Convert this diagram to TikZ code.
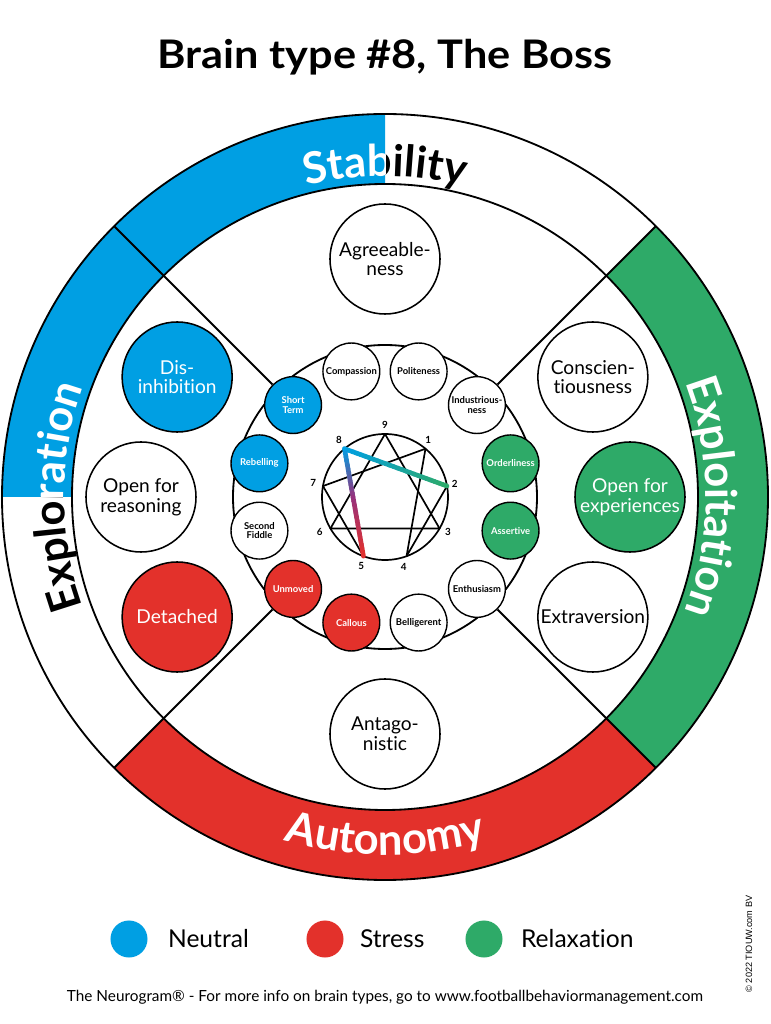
\documentclass[tikz,border=0pt]{standalone}
\usepackage{fontspec}
\setmainfont{Lato}[Ligatures=NoCommon]
\newfontfamily\copyfont{Liberation Sans}
\usetikzlibrary{positioning, calc, backgrounds, decorations.text}
\definecolor{tblue}{RGB}{0,159,227}
\definecolor{tred}{RGB}{227,49,43}
\definecolor{tgreen}{RGB}{46,170,104}
\definecolor{tpurp}{RGB}{150,50,125}
\newcommand{\bandfont}{\bfseries\fontsize{31}{31}\selectfont}

\begin{document}
\begin{tikzpicture}[
    x=0.025cm, y=0.025cm,
    ring/.style={line width=1.3pt},
    divline/.style={line width=1.3pt},
    bigc/.style={circle, draw, line width=1.1pt, fill=white, minimum size=2.75cm, inner sep=0pt, align=center, font=\fontsize{13.6}{14}\selectfont},
    smallc/.style={circle, draw, line width=1pt, fill=white, minimum size=1.42cm, inner sep=0pt, align=center, font=\bfseries\fontsize{6.7}{6.8}\selectfont},
    neutral/.style={fill=tblue, text=white},
    stress/.style={fill=tred, text=white},
    relax/.style={fill=tgreen, text=white},
    enn/.style={line width=1.2pt, line join=round},
    hiline/.style={line width=3.3pt, line cap=round},
    numlbl/.style={font=\bfseries\fontsize{7}{7}\selectfont, inner sep=0pt},
    legc/.style={circle, minimum size=0.925cm, inner sep=0pt},
    legtxt/.style={font=\fontsize{17.5}{17.5}\selectfont, inner sep=0pt},
]
\useasboundingbox (-385,-527) rectangle (385,497);
% === Title ===
\node[font=\bfseries\fontsize{28}{28}\selectfont, anchor=base] (title) at (0,428) {\scalebox{1.1}[1]{Brain type \#8, The Boss}};
% === Outer traits ===
\node[bigc] (agree) at (90:238) {Agreeable-\\ness};
\node[bigc] (consc) at (30:240) {Conscien-\\tiousness};
\node[bigc, relax] (openexp) at (0:245) {Open for\\experiences};
\node[bigc] (extra) at (-30:240) {Extraversion};
\node[bigc] (antag) at (-90:237) {Antago-\\nistic};
\node[bigc, stress] (detach) at (210:240) {Detached};
\node[bigc] (openrsn) at (180:244) {Open for\\reasoning};
\node[bigc, neutral] (disinh) at (150:240) {Dis-\\inhibition};
% === Inner traits ===
\node[smallc] (compas) at (105:130) {Compassion};
\node[smallc] (polite) at (75:130) {Politeness};
\node[smallc] (indus) at (45:130) {Industrious-\\ness};
\node[smallc, relax] (order) at (15:130) {Orderliness};
\node[smallc, relax] (assert) at (-15:130) {Assertive};
\node[smallc] (enthu) at (-45:130) {Enthusiasm};
\node[smallc] (bellig) at (-75:130) {Belligerent};
\node[smallc, stress] (callous) at (-105:130) {Callous};
\node[smallc, stress] (unmoved) at (-135:130) {Unmoved};
\node[smallc] (second) at (195:130) {Second\\Fiddle};
\node[smallc, neutral] (rebel) at (165:130) {Rebelling};
\node[smallc, neutral] (short) at (135:130) {Short\\Term};
% === Bands, rings and dividers ===
\begin{scope}[on background layer]
\fill[white] (-385,-527) rectangle (385,497);
\fill[tblue] (90:313) -- (90:383) arc[start angle=90, end angle=180, radius=383] -- (180:313) arc[start angle=180, end angle=90, radius=313] -- cycle;
\fill[tgreen] (45:313) -- (45:383) arc[start angle=45, end angle=-45, radius=383] -- (-45:313) arc[start angle=-45, end angle=45, radius=313] -- cycle;
\fill[tred] (-45:313) -- (-45:383) arc[start angle=-45, end angle=-135, radius=383] -- (-135:313) arc[start angle=-135, end angle=-45, radius=313] -- cycle;
\draw[ring] (0,0) circle[radius=383];
\draw[ring] (0,0) circle[radius=313];
\draw[ring] (0,0) circle[radius=152];
\coordinate (o45) at (45:383);
\coordinate (o135) at (135:383);
\coordinate (o225) at (225:383);
\coordinate (o315) at (315:383);
\draw[divline] (o45) -- (indus);
\draw[divline] (o135) -- (short);
\draw[divline] (o225) -- (unmoved);
\draw[divline] (o315) -- (enthu);
% band labels
\begin{scope}
\clip (0,0) rectangle (400,400);
\path[decorate, decoration={text along path, text align=center, text={|\bandfont|Stability}}] (135:321) arc[start angle=135, end angle=45, radius=321];
\end{scope}
\begin{scope}
\clip (-400,0) rectangle (0,400);
\path[decorate, decoration={text along path, text align=center, text={|\bandfont\color{white}|Stability}}] (135:321) arc[start angle=135, end angle=45, radius=321];
\end{scope}
\begin{scope}
\clip (-400,0) rectangle (0,-400);
\path[decorate, decoration={text along path, text align=center, text={|\bandfont|Exploration}}] (225:321) arc[start angle=225, end angle=135, radius=321];
\end{scope}
\begin{scope}
\clip (-400,0) rectangle (0,400);
\path[decorate, decoration={text along path, text align=center, text={|\bandfont\color{white}|Exploration}}] (225:321) arc[start angle=225, end angle=135, radius=321];
\end{scope}
\path[decorate, decoration={text along path, text align=center, text={|\bandfont\color{white}|Exploitation}}] (45:321) arc[start angle=45, end angle=-45, radius=321];
\path[decorate, decoration={text along path, text align=center, text={|\bandfont\color{white}|Autonomy}}] (-135:358) arc[start angle=-135, end angle=-45, radius=358];
\end{scope}
% === Enneagram ===
\draw[enn] (0,0) circle[radius=63];
\coordinate (e9) at (90:63);
\coordinate (e1) at (50:63);
\coordinate (e2) at (10:63);
\coordinate (e3) at (-30:63);
\coordinate (e4) at (-70:63);
\coordinate (e5) at (-110:63);
\coordinate (e6) at (-150:63);
\coordinate (e7) at (170:63);
\coordinate (e8) at (130:63);
\draw[enn] (e9) -- (e3) -- (e6) -- cycle;
\draw[enn] (e5) -- (e7) -- (e1) -- (e4) -- (e2);
% highlighted path 2 - 8 - 5
\coordinate (m85) at ($(e8)!0.45!(e5)$);
\foreach \i in {0,...,24}{
  \pgfmathtruncatemacro{\mix}{100-4*\i}
  \draw[hiline, tblue!\mix!tgreen] ($(e8)!\i/25!(e2)$) -- ($(e8)!\i/25+0.04!(e2)$);
}
\foreach \i in {0,...,11}{
  \pgfmathtruncatemacro{\mix}{100-8.33*\i}
  \draw[hiline, tblue!\mix!tpurp] ($(e8)!\i/12!(m85)$) -- ($(e8)!\i/12+0.0834!(m85)$);
}
\foreach \i in {0,...,14}{
  \pgfmathtruncatemacro{\mix}{100-6.67*\i}
  \draw[hiline, tpurp!\mix!tred] ($(m85)!\i/15!(e5)$) -- ($(m85)!\i/15+0.0667!(e5)$);
}
\node[numlbl] (n9) at (90:72) {9};
\node[numlbl] (n1) at (53:72) {1};
\node[numlbl] (n2) at (11:71) {2};
\node[numlbl] (n3) at (-29:72) {3};
\node[numlbl] (n4) at (-75:72) {4};
\node[numlbl] (n5) at (-109:73) {5};
\node[numlbl] (n6) at (-152:74) {6};
\node[numlbl] (n7) at (169:73) {7};
\node[numlbl] (n8) at (129:73) {8};
% === Legend ===
\node[legc, fill=tblue] (legn) at (-256,-442) {};
\node[legtxt, right=0.5cm of legn] (legntxt) {Neutral};
\node[legc, fill=tred] (legs) at (-60,-442) {};
\node[legtxt, right=0.4cm of legs] (legstxt) {Stress};
\node[legc, fill=tgreen] (legr) at (99,-442) {};
\node[legtxt, right=0.45cm of legr] (legrtxt) {Relaxation};
% === Footer ===
\node[font=\fontsize{10.9}{11}\selectfont, anchor=base] (foot) at (0,-504) {The Neurogram® - For more info on brain types, go to www.footballbehaviormanagement.com};
\node[font=\copyfont\fontsize{6.5}{6.5}\selectfont, rotate=90] (copy) at (364,-447) {© 2022 TIOUW.com BV};
\end{tikzpicture}
\end{document}
